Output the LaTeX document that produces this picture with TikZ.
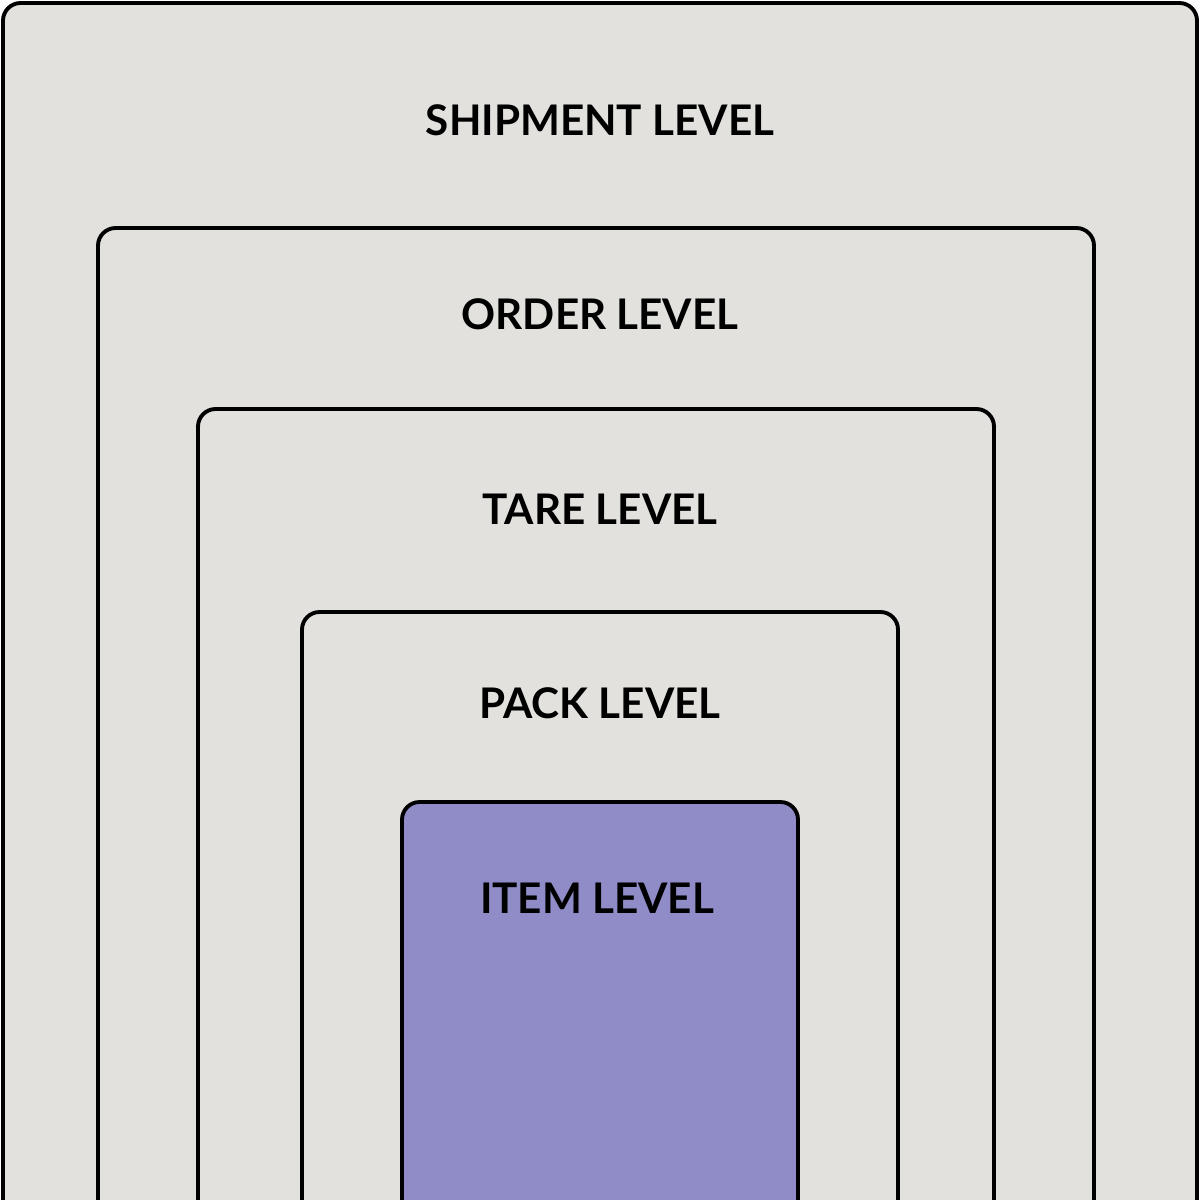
\documentclass[tikz,border=0pt]{standalone}
\usepackage{fontspec}
\setmainfont{Lato}
\usetikzlibrary{positioning}
\definecolor{boxgray}{HTML}{E2E1DE}
\definecolor{itempurple}{HTML}{8F8CC8}
\tikzset{level/.style={draw=black, line width=1.1pt, rounded corners=5pt, fill=boxgray}}
\tikzset{lbl/.style={font=\bfseries\fontsize{12}{14}\selectfont, inner sep=0pt}}
\begin{document}
\begin{tikzpicture}[x=0.01cm, y=-0.01cm]
  \useasboundingbox (0,0) rectangle (1200,1200);
  \clip (0,0) rectangle (1200,1200);
  \fill[white] (0,0) rectangle (1200,1200);
  % nested levels
  \draw[level] (3,3) rectangle (1197,1260);
  \draw[level] (98,228) rectangle (1094,1260);
  \draw[level] (198,409) rectangle (994,1260);
  \draw[level] (302,612) rectangle (898,1260);
  \draw[level, fill=itempurple] (402,802) rectangle (798,1260);
  % labels
  \node[lbl] (shipment) at (600,120) {SHIPMENT LEVEL};
  \node[lbl] (order) at (600,314) {ORDER LEVEL};
  \node[lbl] (tare) at (600,509) {TARE LEVEL};
  \node[lbl] (pack) at (600,703) {PACK LEVEL};
  \node[lbl] (item) at (597,898) {ITEM LEVEL};
\end{tikzpicture}
\end{document}
